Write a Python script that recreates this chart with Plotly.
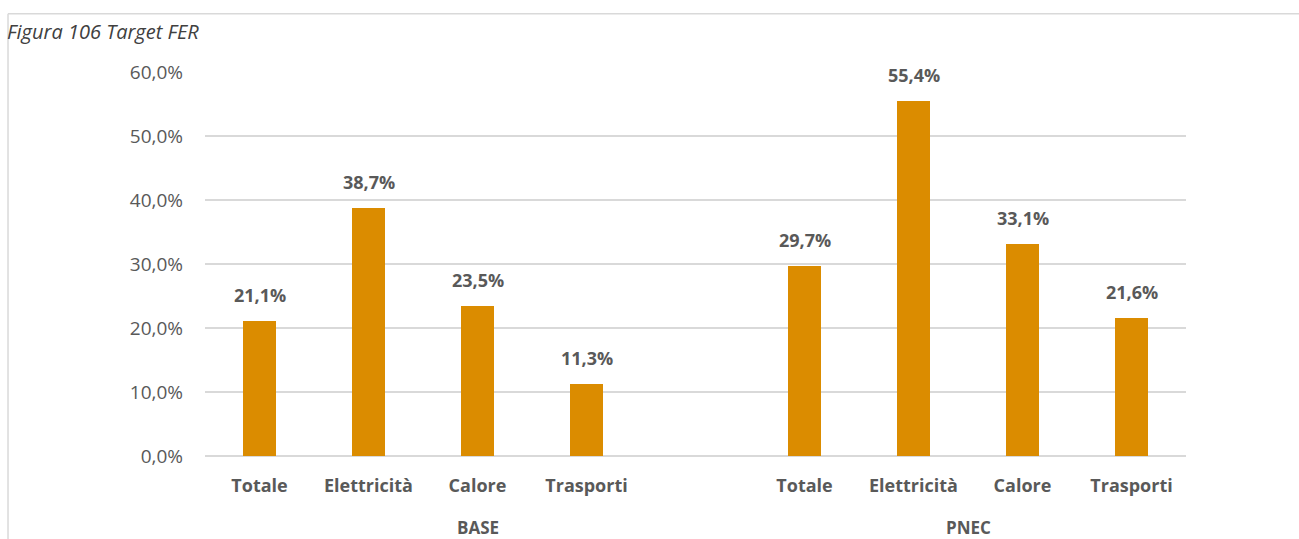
import plotly.graph_objects as go

# Scenario groups and the renewable-share categories inside each
groups = ["BASE", "PNEC"]
categories = ["Totale", "Elettricità", "Calore", "Trasporti"]
base_values = [0.211, 0.387, 0.235, 0.113]
pnec_values = [0.297, 0.554, 0.331, 0.216]
y_ticks = [0.0, 0.1, 0.2, 0.3, 0.4, 0.5, 0.6]

BAR_COLOR = "#DB8C00"
TEXT_COLOR = "#595959"
GRID_COLOR = "#D9D9D9"
FONT = "'Open Sans', Lato, sans-serif"

# Slot layout: four categories, an empty spacer slot, then four more
gap_slots = 1
base_pos = list(range(len(categories)))
pnec_pos = [len(categories) + gap_slots + i for i in range(len(categories))]
positions = base_pos + pnec_pos
values = base_values + pnec_values
labels = categories + categories

fig = go.Figure()
fig.add_trace(go.Bar(
    x=positions,
    y=values,
    width=0.31,
    marker=dict(color=BAR_COLOR, line=dict(width=0)),
    hoverinfo="skip",
    showlegend=False,
))

# value labels above each bar
for x, v in zip(positions, values):
    fig.add_annotation(
        x=x, y=v, xref="x", yref="y",
        text=f"{v * 100:.1f}%".replace(".", ","),
        showarrow=False, yanchor="bottom", yshift=12,
        font=dict(family=FONT, size=18, color=TEXT_COLOR, weight="bold"),
    )

# group labels beneath the category labels
group_centers = [
    (base_pos[0] + base_pos[-1] + gap_slots) / 2,
    (pnec_pos[0] + pnec_pos[-1]) / 2,
]
for name, cx in zip(groups, group_centers):
    fig.add_annotation(
        x=cx, y=0, xref="x", yref="paper",
        text=name, showarrow=False, yanchor="top", yshift=-58,
        font=dict(family=FONT, size=17, color=TEXT_COLOR, weight="bold"),
    )

# caption in the top-left corner
fig.add_annotation(
    x=0, y=1, xref="paper", yref="paper", xanchor="left", yanchor="top",
    text="<i>Figura 106 Target FER</i>", showarrow=False,
    font=dict(family=FONT, size=20, color="#404040"),
    xshift=-200, yshift=56,
)

# frame lines along the top and left edge of the page
fig.add_shape(type="line", xref="paper", yref="paper",
              x0=-0.2008, x1=1.12, y0=1.1515, y1=1.1515,
              line=dict(color=GRID_COLOR, width=1.5))
fig.add_shape(type="line", xref="paper", yref="paper",
              x0=-0.2008, x1=-0.2008, y0=1.1515, y1=-0.25,
              line=dict(color=GRID_COLOR, width=1.5))

fig.update_layout(
    width=1299, height=539,
    margin=dict(l=205, r=113, t=72, b=83),
    paper_bgcolor="white", plot_bgcolor="white",
    separators=",.",
    bargap=0,
    font=dict(family=FONT, color=TEXT_COLOR),
    xaxis=dict(
        range=[-0.5, pnec_pos[-1] + 0.5],
        tickmode="array", tickvals=positions, ticktext=labels,
        tickfont=dict(family=FONT, size=18, color=TEXT_COLOR, weight="bold"),
        showgrid=False, zeroline=False, showline=False, ticks="",
        ticklabelstandoff=17,
    ),
    yaxis=dict(
        range=[0, 0.6], tickvals=y_ticks, tickformat=".1%",
        tickfont=dict(family=FONT, size=19, color=TEXT_COLOR),
        showgrid=True, gridcolor=GRID_COLOR, gridwidth=1.5,
        zeroline=True, zerolinecolor=GRID_COLOR, zerolinewidth=1.5,
        showline=False, ticks="", ticklabelstandoff=21,
    ),
)

fig.write_html("out.html")
